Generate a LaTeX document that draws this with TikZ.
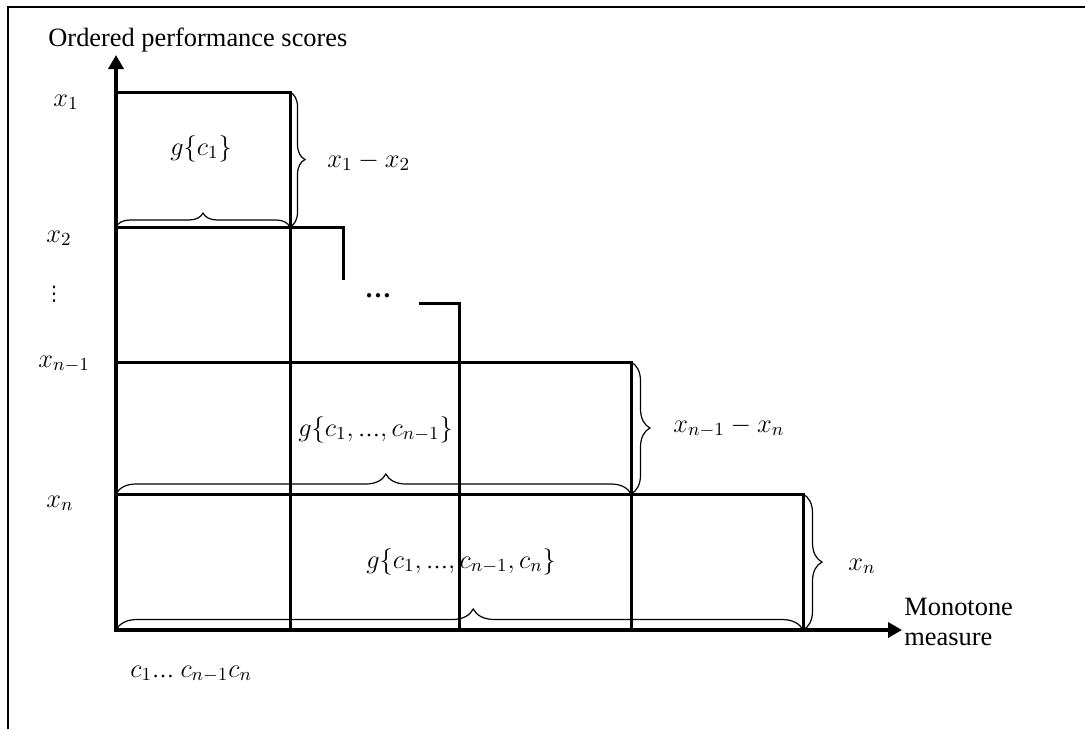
\RequirePackage{fix-cm}
\documentclass[tikz,border=0pt]{standalone}
\usepackage[no-math]{fontspec}
\setmainfont{Liberation Serif}
\newfontfamily\dotsfont{DejaVu Sans}
\usepackage{amsmath}
\usetikzlibrary{positioning,arrows.meta,decorations.pathreplacing,calc}
\newcommand{\tdots}{\mbox{\fontsize{11}{13}\selectfont …}}
\tikzset{
  bar/.style  = {line width=1.5pt},
  axis/.style = {line width=2.2pt, -{Triangle[length=7pt,width=7.5pt]}},
  brc/.style  = {decorate, line width=0.6pt, decoration={brace, amplitude=#1}},
  txt/.style  = {font=\fontsize{13.2}{15}\selectfont, inner sep=0pt, align=left},
  lab/.style  = {font=\fontsize{13.2}{15}\selectfont, inner sep=0pt},
}

\begin{document}
\begin{tikzpicture}[x=0.5pt, y=-0.5pt]
  \useasboundingbox (0,0) rectangle (1085,729);
  \draw[line width=1pt] (8,729) -- (8,7) -- (1085,7);

  % corners of the steps
  \coordinate (o) at (116,630);  \coordinate (top) at (116,55);
  \coordinate (end) at (902,630);
  \coordinate (a1) at (290,92);   \coordinate (a2) at (343,227);
  \coordinate (a3) at (459,303);  \coordinate (a4) at (631,362);
  \coordinate (a5) at (803,494);

  \draw[bar] (116,92) -- (a1) -- (a1 |- o);
  \draw[bar] (116,227) -- (a2) -- (343,280);
  \draw[bar] (419,303) -- (a3) -- (a3 |- o);
  \draw[bar] (116,362) -- (a4) -- (a4 |- o);
  \draw[bar] (116,494) -- (a5) -- (a5 |- o);
  \draw[axis] (o) -- (end);
  \draw[line width=2.2pt] (o) -- (a3 |- o);
  \draw[axis] (116,632) -- (top);

  % braces
  \draw[brc=7pt] (116,227) -- (a1 |- a2);
  \draw[brc=7.5pt] (a1) -- (a1 |- a2);
  \draw[brc=10pt, decoration={aspect=0.524}] (116,494) -- (a4 |- a5);
  \draw[brc=9.5pt] (a4) -- (a4 |- a5);
  \draw[brc=10.5pt, decoration={aspect=0.52}] (o) -- (a5 |- o);
  \draw[brc=9.5pt] (a5) -- (a5 |- o);

  \node[txt, anchor=base west] (ylab) at (48,46) {Ordered performance scores};
  \node[txt, anchor=west] (xlab) at (904,622) {Monotone\\measure};
  \node[txt, anchor=base] (gap) at (378,297) {\textbf{…}};

  \node[lab, anchor=base west] (x1) at (53,106) {$x_1$};
  \node[lab, anchor=base west] (x2) at (46,242) {$x_2$};
  \node[lab, font=\fontsize{10}{12}\selectfont] (vd) at (54,294) {\dotsfont ⋮};
  \node[lab, anchor=base west] (xm) at (38,367) {$x_{n-1}$};
  \node[lab, anchor=base west] (xn) at (46,507) {$x_n$};
  \node[lab, anchor=base west] (cs) at (130,677) {$c_1\tdots\ c_{n-1}c_n$};

  \node[lab, anchor=base west] (g1) at (170,155) {$g\{c_1\}$};
  \node[lab, anchor=base west] (d1) at (327,167) {$x_1-x_2$};
  \node[lab, anchor=base west] (g2) at (298,436) {$g\{c_1,\tdots,c_{n-1}\}$};
  \node[lab, anchor=base west] (d2) at (673,432) {$x_{n-1}-x_n$};
  \node[lab, anchor=base west] (g3) at (366,568) {$g\{c_1,\tdots,c_{n-1},c_n\}$};
  \node[lab, anchor=base west] (d3) at (848,570) {$x_n$};
\end{tikzpicture}
\end{document}
